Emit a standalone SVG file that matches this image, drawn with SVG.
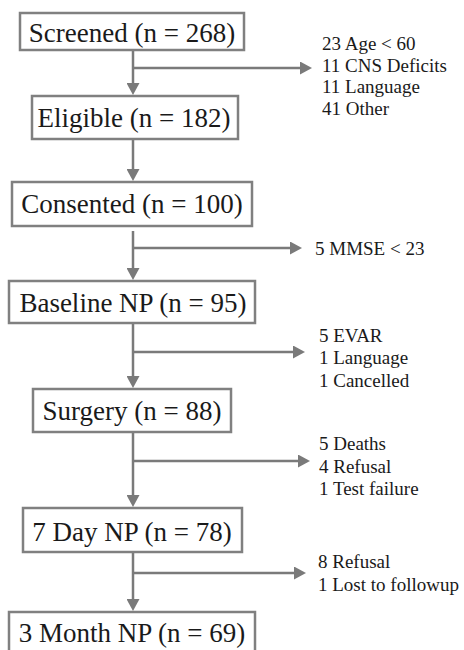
<svg xmlns="http://www.w3.org/2000/svg" width="464" height="650" viewBox="0 0 464 650">
<style>
.box{fill:#ffffff;stroke:#808080;stroke-width:2.5}
.lbl{font-family:'Liberation Serif','Times New Roman',serif;font-size:27px;fill:#1a1a1a;text-anchor:middle}
.side{font-family:'Liberation Serif','Times New Roman',serif;font-size:19px;fill:#1a1a1a}
.con{stroke:#7a7a7a;stroke-width:2.5;fill:none}
</style>
<defs>
<marker id="ah" markerUnits="userSpaceOnUse" markerWidth="13" markerHeight="13" refX="8" refY="6.5" orient="auto">
<path d="M0,0 L12,6.5 L0,13 z" fill="#7a7a7a"/>
</marker>
</defs>
<rect width="464" height="650" fill="#ffffff"/>
<g id="connectors">
<line class="con" x1="133" y1="50" x2="133" y2="91" marker-end="url(#ah)"/>
<line class="con" x1="133" y1="68" x2="308" y2="68" marker-end="url(#ah)"/>
<line class="con" x1="133" y1="139" x2="133" y2="177" marker-end="url(#ah)"/>
<line class="con" x1="133" y1="231" x2="133" y2="276" marker-end="url(#ah)"/>
<line class="con" x1="133" y1="248" x2="298" y2="248" marker-end="url(#ah)"/>
<line class="con" x1="133" y1="323" x2="133" y2="384" marker-end="url(#ah)"/>
<line class="con" x1="133" y1="352" x2="301" y2="352" marker-end="url(#ah)"/>
<line class="con" x1="133" y1="432" x2="133" y2="503" marker-end="url(#ah)"/>
<line class="con" x1="133" y1="461" x2="306" y2="461" marker-end="url(#ah)"/>
<line class="con" x1="133" y1="552" x2="133" y2="607" marker-end="url(#ah)"/>
<line class="con" x1="133" y1="573" x2="302" y2="573" marker-end="url(#ah)"/>
</g>
<g id="screened"><rect class="box" x="20" y="13" width="224" height="37"/><text class="lbl" x="132" y="42">Screened (n = 268)</text></g>
<g id="eligible"><rect class="box" x="32" y="96" width="206" height="43"/><text class="lbl" x="134" y="127">Eligible (n = 182)</text></g>
<g id="consented"><rect class="box" x="12" y="182" width="240" height="44"/><text class="lbl" x="132" y="213">Consented (n = 100)</text></g>
<g id="baseline"><rect class="box" x="9" y="281" width="246" height="42"/><text class="lbl" x="133" y="312">Baseline NP (n = 95)</text></g>
<g id="surgery"><rect class="box" x="33" y="389" width="198" height="43"/><text class="lbl" x="132" y="420">Surgery (n = 88)</text></g>
<g id="day7"><rect class="box" x="23" y="508" width="219" height="44"/><text class="lbl" x="132" y="541">7 Day NP (n = 78)</text></g>
<g id="month3"><rect class="box" x="9" y="612" width="246" height="50"/><text class="lbl" x="132" y="642">3 Month NP (n = 69)</text></g>
<g id="excl1"><text class="side" x="322" y="50">23 Age &lt; 60</text><text class="side" x="322" y="72">11 CNS Deficits</text><text class="side" x="322" y="93">11 Language</text><text class="side" x="322" y="115">41 Other</text></g>
<g id="excl2"><text class="side" x="315" y="255">5 MMSE &lt; 23</text></g>
<g id="excl3"><text class="side" x="319" y="342">5 EVAR</text><text class="side" x="319" y="364">1 Language</text><text class="side" x="319" y="387">1 Cancelled</text></g>
<g id="excl4"><text class="side" x="319" y="450">5 Deaths</text><text class="side" x="319" y="473">4 Refusal</text><text class="side" x="319" y="495">1 Test failure</text></g>
<g id="excl5"><text class="side" x="318" y="568">8 Refusal</text><text class="side" x="318" y="591">1 Lost to followup</text></g>
</svg>
